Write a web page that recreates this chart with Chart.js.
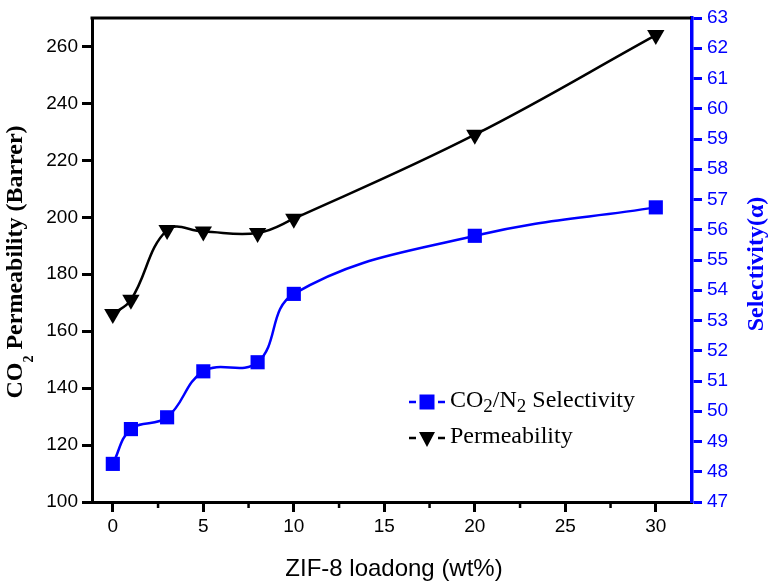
<!DOCTYPE html>
<html>
<head>
<meta charset="utf-8">
<script src="https://cdn.jsdelivr.net/npm/chart.js@4.4.1/dist/chart.umd.min.js"></script>
<style>
    html, body { margin: 0; padding: 0; background: #fff; }
    #chartcanvas { display: block; }
</style>
</head>
<body>
<canvas id="chartcanvas" width="771" height="583"></canvas>
<script>
// ZIF-8 loading (wt%) and measured values
var loading = [0, 1, 3, 5, 8, 10, 20, 30];
var permeability = [166, 171, 195.5, 195, 194.5, 199.5, 229, 264];
var selectivity = [48.26, 49.41, 49.8, 51.32, 51.62, 53.88, 55.8, 56.74];

var xTicks = [0, 5, 10, 15, 20, 25, 30];
var xMinorTicks = [2.5, 7.5, 12.5, 17.5, 22.5, 27.5];
var permTicks = [100, 120, 140, 160, 180, 200, 220, 240, 260];
var selTicks = [47, 48, 49, 50, 51, 52, 53, 54, 55, 56, 57, 58, 59, 60, 61, 62, 63];

var BLUE = '#0000ff';
var SANS = '"Liberation Sans", Arial, sans-serif';
var SERIF = '"Liberation Serif", "Times New Roman", serif';

function pts(ys) {
    return loading.map(function(x, i) { return {x: x, y: ys[i]}; });
}

function fixedTicks(list) {
    return function(scale) {
        scale.ticks = list.map(function(v) { return {value: v}; });
    };
}

// draws text made of runs (for subscripts) starting at x, baseline y
function richText(ctx, parts, x, y) {
    var cx = x;
    parts.forEach(function(p) {
        ctx.font = p.font;
        ctx.fillText(p.t, cx, y + (p.dy || 0));
        cx += ctx.measureText(p.t).width;
    });
}
function richWidth(ctx, parts) {
    var w = 0;
    parts.forEach(function(p) {
        ctx.font = p.font;
        w += ctx.measureText(p.t).width;
    });
    return w;
}

function legendMarker(ctx, ds, x, y) {
    ctx.fillStyle = ds.backgroundColor;
    ctx.beginPath();
    if (ds.pointStyle === 'rect') {
        ctx.rect(x - 7.5, y - 7.5, 15, 15);
    } else {
        ctx.moveTo(x - 8, y - 6);
        ctx.lineTo(x + 8, y - 6);
        ctx.lineTo(x, y + 9);
        ctx.closePath();
    }
    ctx.fill();
}

var decor = {
    id: 'decor',
    afterDraw: function(chart) {
        var ctx = chart.ctx;
        var a = chart.chartArea;
        var xs = chart.scales.x;
        ctx.save();

        // top frame line
        ctx.strokeStyle = '#000';
        ctx.lineWidth = 3;
        ctx.beginPath();
        ctx.moveTo(a.left - 1.5, a.top);
        ctx.lineTo(a.right - 1, a.top);
        ctx.stroke();

        // minor x ticks
        ctx.lineWidth = 2.5;
        xMinorTicks.forEach(function(v) {
            var px = xs.getPixelForValue(v);
            ctx.beginPath();
            ctx.moveTo(px, a.bottom);
            ctx.lineTo(px, a.bottom + 6);
            ctx.stroke();
        });

        // x title
        ctx.fillStyle = '#000';
        ctx.font = '24px ' + SANS;
        ctx.textAlign = 'center';
        ctx.textBaseline = 'alphabetic';
        ctx.fillText('ZIF-8 loadong (wt%)', (a.left + a.right) / 2 + 2, 576);

        ctx.textAlign = 'left';
        // left title
        var lt = [
            {t: 'CO', font: 'bold 24px ' + SERIF},
            {t: '2', font: 'bold 14px ' + SERIF, dy: 11},
            {t: ' Permeability (Barrer)', font: 'bold 24px ' + SERIF},
        ];
        ctx.save();
        ctx.translate(22, 262);
        ctx.rotate(-Math.PI / 2);
        richText(ctx, lt, -richWidth(ctx, lt) / 2, 0);
        ctx.restore();

        // right title
        ctx.save();
        ctx.fillStyle = BLUE;
        ctx.font = 'bold 24px ' + SERIF;
        ctx.textAlign = 'center';
        ctx.translate(763, 264);
        ctx.rotate(-Math.PI / 2);
        ctx.fillText('Selectivity(\u03b1)', 0, 0);
        ctx.restore();

        // legend
        var rows = [
            {ds: chart.data.datasets[0], y: 402, parts: [
                {t: 'CO', font: '24px ' + SERIF},
                {t: '2', font: '19px ' + SERIF, dy: 5},
                {t: '/N', font: '24px ' + SERIF},
                {t: '2', font: '19px ' + SERIF, dy: 5},
                {t: ' Selectivity', font: '24px ' + SERIF},
            ]},
            {ds: chart.data.datasets[1], y: 438, parts: [
                {t: 'Permeability', font: '24px ' + SERIF},
            ]},
        ];
        rows.forEach(function(r) {
            ctx.strokeStyle = r.ds.borderColor;
            ctx.lineWidth = 2.5;
            ctx.beginPath();
            ctx.moveTo(409, r.y);
            ctx.lineTo(416, r.y);
            ctx.moveTo(438, r.y);
            ctx.lineTo(445, r.y);
            ctx.stroke();
            legendMarker(ctx, r.ds, 427, r.y);
            ctx.fillStyle = '#000';
            richText(ctx, r.parts, 450, r.y + 5);
        });

        ctx.restore();
    }
};

var chart = new Chart(document.getElementById('chartcanvas'), {
    type: 'line',
    data: {
        datasets: [
            {
                label: 'CO2/N2 Selectivity',
                data: pts(selectivity),
                yAxisID: 'y2',
                borderColor: BLUE,
                backgroundColor: BLUE,
                borderWidth: 2.5,
                pointStyle: 'rect',
                pointRadius: 10,
                pointBorderWidth: 0,
                tension: 0.4,
            }, {
                label: 'Permeability',
                data: pts(permeability),
                yAxisID: 'y',
                borderColor: '#000',
                backgroundColor: '#000',
                borderWidth: 2.5,
                pointStyle: 'triangle',
                pointRotation: 180,
                pointRadius: 10,
                pointBorderWidth: 0,
                tension: 0.4,
            }
        ],
    },
    options: {
        responsive: false,
        devicePixelRatio: 1,
        animation: false,
        layout: {
            padding: { top: 18, left: 0, right: 0, bottom: 0 },
        },
        plugins: {
            legend: { display: false },
            tooltip: { enabled: false },
        },
        scales: {
            x: {
                type: 'linear',
                position: 'bottom',
                min: -1.15,
                max: 32,
                afterBuildTicks: fixedTicks(xTicks),
                afterFit: function(s) { s.height = 81; },
                grid: { drawOnChartArea: false, tickLength: 10, tickWidth: 3, tickColor: '#000' },
                border: { color: '#000', width: 3 },
                ticks: { color: '#000', font: { family: SANS, size: 19 }, padding: 3 },
            },
            y: {
                type: 'linear',
                position: 'left',
                min: 100,
                max: 270,
                afterBuildTicks: fixedTicks(permTicks),
                afterFit: function(s) { s.width = 92; },
                grid: { drawOnChartArea: false, tickLength: 10, tickWidth: 3, tickColor: '#000' },
                border: { color: '#000', width: 3 },
                ticks: { color: '#000', font: { family: SANS, size: 19 }, padding: 4 },
            },
            y2: {
                type: 'linear',
                position: 'right',
                min: 47,
                max: 63,
                afterBuildTicks: fixedTicks(selTicks),
                afterFit: function(s) { s.width = 79; },
                grid: { drawOnChartArea: false, tickLength: 10, tickWidth: 3, tickColor: BLUE },
                border: { color: BLUE, width: 3.5 },
                ticks: { color: BLUE, font: { family: SANS, size: 19 }, padding: 5 },
            },
        },
    },
    plugins: [decor],
});
</script>
</body>
</html>
